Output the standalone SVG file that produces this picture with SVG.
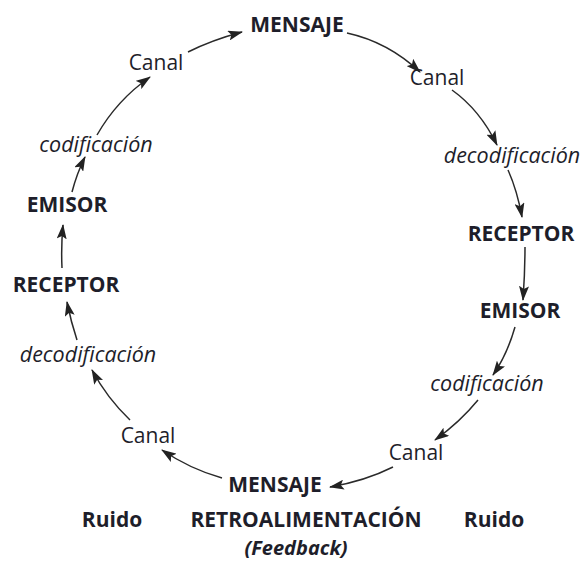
<svg xmlns="http://www.w3.org/2000/svg" width="585" height="562" viewBox="0 0 585 562">
<defs>
<marker id="ah" markerWidth="15" markerHeight="10" refX="14" refY="5" orient="auto" markerUnits="userSpaceOnUse">
<path d="M0,0 L15,5 L0,10 L3,5 Z" fill="#222"/>
</marker>
</defs>
<style>
text{font-family:"Open Sans","Liberation Sans",sans-serif;fill:#1e1e2a;text-anchor:middle;font-size:21px}
.b{font-weight:bold}
.i{font-style:italic;font-size:21.5px}
.e path{fill:none;stroke:#2a2a2a;stroke-width:1.5;marker-end:url(#ah)}
</style>
<rect width="585" height="562" fill="#fff"/>
<g id="n-mensaje-top"><text class="b" x="297" y="32">MENSAJE</text></g>
<g id="n-canal-tl"><text x="156" y="70">Canal</text></g>
<g id="n-canal-tr"><text x="437" y="85">Canal</text></g>
<g id="n-cod-l"><text class="i" x="96" y="152">codificación</text></g>
<g id="n-decod-r"><text class="i" x="512" y="163">decodificación</text></g>
<g id="n-emisor-l"><text class="b" x="67" y="212">EMISOR</text></g>
<g id="n-receptor-r"><text class="b" x="521" y="241">RECEPTOR</text></g>
<g id="n-receptor-l"><text class="b" x="66" y="292">RECEPTOR</text></g>
<g id="n-emisor-r"><text class="b" x="520" y="318">EMISOR</text></g>
<g id="n-decod-l"><text class="i" x="88" y="362">decodificación</text></g>
<g id="n-cod-r"><text class="i" x="487" y="391">codificación</text></g>
<g id="n-canal-bl"><text x="148" y="443">Canal</text></g>
<g id="n-canal-br"><text x="416" y="460">Canal</text></g>
<g id="n-mensaje-bot"><text class="b" x="275" y="492">MENSAJE</text></g>
<g id="n-ruido-l"><text class="b" x="112" y="527">Ruido</text></g>
<g id="n-retro"><text class="b" x="306" y="527">RETROALIMENTACIÓN</text></g>
<g id="n-ruido-r"><text class="b" x="494" y="527">Ruido</text></g>
<g id="n-feedback"><text class="b i" x="296" y="555" style="font-size:20px">(Feedback)</text></g>
<g id="connectors" class="e">
<path d="M188,52 Q212,40 242,32"/>
<path d="M347,33 Q388,42 420,72"/>
<path d="M452,90 Q480,110 497,145"/>
<path d="M508,170 Q517,190 522,217"/>
<path d="M525,247 Q525,272 523,300"/>
<path d="M515,327 Q507,355 493,375"/>
<path d="M478,400 Q460,422 435,440"/>
<path d="M393,467 Q365,481 330,487"/>
<path d="M222,478 Q190,469 162,450"/>
<path d="M130,420 Q107,398 92,370"/>
<path d="M77,340 Q71,322 67,302"/>
<path d="M62,268 Q61,246 63,225"/>
<path d="M72,192 Q77,173 85,157"/>
<path d="M97,135 Q117,100 150,77"/>
</g>
</svg>
